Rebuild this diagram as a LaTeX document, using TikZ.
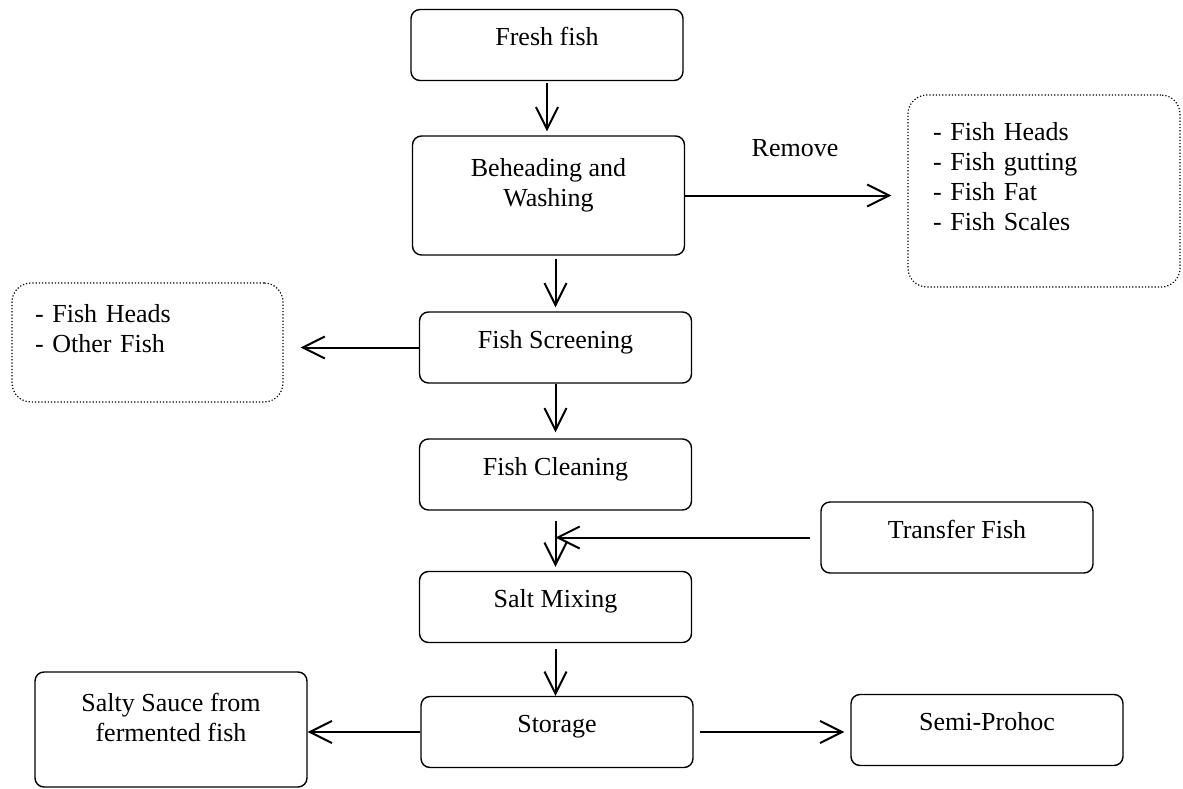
\documentclass[tikz,border=0pt]{standalone}
\usepackage{fontspec}
\setmainfont{Liberation Serif}
\usetikzlibrary{arrows.meta, positioning}

\tikzset{
  stage/.style={draw, rounded corners=9pt, line width=1.4pt, inner sep=0pt, minimum width=272pt, text height=36pt, text depth=35pt, align=center},
  waste/.style={draw, dotted, rounded corners=19pt, line width=1.2pt, inner ysep=0pt, align=left},
  flow/.style={-{Straight Barb[length=22pt,width=22pt]}, line width=2pt},
}

\begin{document}
\begin{tikzpicture}[x=1pt, y=-1pt, font=\fontsize{26pt}{30pt}\selectfont]
      \useasboundingbox (0, 0) rectangle (1183, 789);

      % Nodes
      \node[stage] (fresh) at (547, 45) {Fresh fish};
      \node[stage, text height=70pt, text depth=49pt] (behead) at (548.5, 195.5) {Beheading and\\Washing};
      \node (remove) at (795, 148) {Remove};
      \node[waste, inner xsep=25pt, text width=222pt, text height=45pt, text depth=147pt] (removed) at (1044, 191)
            {- Fish Heads\\- Fish gutting\\- Fish Fat\\- Fish Scales};
      \node[stage] (screen) at (555.5, 347.5) {Fish Screening};
      \node[waste, inner xsep=23pt, text width=225pt, text height=39pt, text depth=80pt] (discard) at (147.5, 342.5)
            {- Fish Heads\\- Other Fish};
      \node[stage] (clean) at (555.5, 474.5) {Fish Cleaning};
      \node[stage] (transfer) at (957, 537.5) {Transfer Fish};
      \node[stage] (salt) at (555.5, 607) {Salt Mixing};
      \node[stage] (storage) at (557, 732) {Storage};
      \node[stage, text height=69pt, text depth=46pt] (sauce) at (171, 729.5) {Salty Sauce from\\fermented fish};
      \node[stage] (semi) at (987, 730) {Semi-Prohoc};
      \coordinate (join) at (screen.south |- transfer.west);

      % Edges
      \draw[flow, shorten <=2pt, shorten >=4pt] (fresh.south) -- (fresh.south |- behead.north);
      \draw[flow, shorten >=16pt] (behead.east) -- (behead.east -| removed.west);
      \draw[flow, shorten <=3pt, shorten >=4pt] (screen.north |- behead.south) -- (screen.north);
      \draw[flow, shorten >=17pt] (screen.west) -- (screen.west -| discard.east);
      \draw[flow, shorten >=6pt] (screen.south) -- (clean.north);
      \draw[flow, shorten <=10pt, shorten >=4pt] (clean.south) -- (salt.north);
      \draw[flow, shorten <=10pt] (transfer.west) -- (join);
      \draw[flow, shorten <=6pt] (salt.south) -- (salt.south |- storage.north);
      \draw[flow] (storage.west) -- (storage.west -| sauce.east);
      \draw[flow, shorten <=6pt, shorten >=6pt] (storage.east) -- (storage.east -| semi.west);

    \end{tikzpicture}
\end{document}
